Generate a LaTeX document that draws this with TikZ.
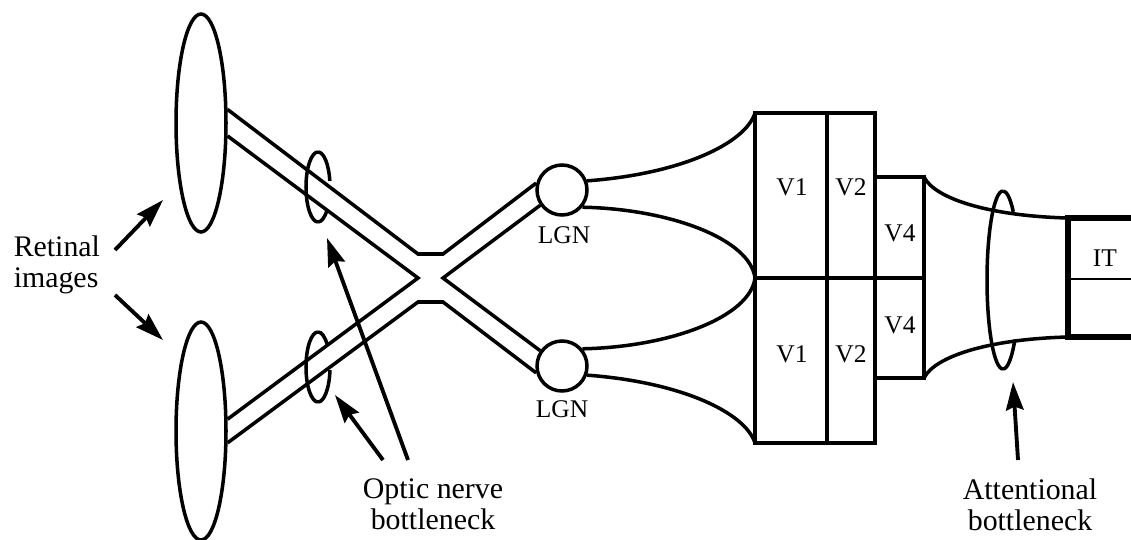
\documentclass[tikz,border=0pt]{standalone}
\usepackage{fontspec}
\setmainfont{Liberation Serif}
\usetikzlibrary{arrows.meta, positioning, calc, shapes.geometric}

\begin{document}
\begin{tikzpicture}[x=0.02cm, y=0.02cm, line width=2pt,
		eye/.style={draw, ellipse, minimum width=1cm, minimum height=4.36cm, inner sep=0pt},
		lgn/.style={draw, circle, minimum size=1cm, inner sep=0pt},
		lbl/.style={font=\fontsize{14.5}{16}\selectfont, inner sep=0pt},
		txt/.style={font=\fontsize{17}{17.5}\selectfont, align=center, inner sep=0pt},
		arr/.style={line width=2.2pt, -{Stealth[length=16pt, width=10pt, inset=2pt]}},
		ring/.style={x radius=12, y radius=35},
		bigring/.style={x radius=16, y radius=89}]
			\useasboundingbox (0,0) rectangle (1131,539);
			% eyes and LGN
			\node[eye] (eyeT) at (201,416) {};
			\node[eye] (eyeB) at (201,108) {};
			\node[lgn] (lgnT) at (562,349) {};
			\node[lgn] (lgnB) at (562,173) {};
			\node[lbl] (lgnTl) at (564,304) {LGN};
			\node[lbl] (lgnBl) at (562,130) {LGN};
			% chiasm
			\coordinate (chUL) at (418,285);
			\coordinate (chUR) at (443,285);
			\coordinate (chL) at (418,261);
			\coordinate (chR) at (443,261);
			\coordinate (chDL) at (418,237);
			\coordinate (chDR) at (443,237);
			\draw (eyeT.27) -- (chUL) -- (chUR) -- (lgnT.165);
			\draw (eyeT.-26) -- (chL) -- (eyeB.24);
			\draw (eyeB.-24) -- (chDL) -- (chDR) -- (lgnB.195);
			\draw (lgnT.215) -- (chR) -- (lgnB.145);
			% optic nerve rings
			\draw (318,387) arc[ring, start angle=90, end angle=270];
			\draw (318,387) arc[ring, start angle=90, end angle=10];
			\draw (318,317) arc[ring, start angle=-90, end angle=-42];
			\draw (318,207) arc[ring, start angle=90, end angle=270];
			\draw (318,207) arc[ring, start angle=90, end angle=40];
			\draw (318,137) arc[ring, start angle=-90, end angle=-5];
			% V1 V2 V4
			\coordinate (v1a) at (755,426);
			\coordinate (v1m) at (755,261);
			\coordinate (v1b) at (755,96);
			\coordinate (v4a) at (924,362);
			\coordinate (v4b) at (924,161);
			\draw (v1b) rectangle (827,426);
			\draw (827,96) rectangle (875,426);
			\draw (875,161) rectangle (v4a);
			\draw (v1m) -- (924,261);
			\node[lbl] (v1T) at (792,352) {V1};
			\node[lbl] (v1B) at (792,185) {V1};
			\node[lbl] (v2T) at (851,352) {V2};
			\node[lbl] (v2B) at (851,185) {V2};
			\node[lbl] (v4T) at (900,306) {V4};
			\node[lbl] (v4B) at (900,214) {V4};
			\draw (lgnT.20) .. controls (680,365) and (745,395) .. (v1a);
			\draw (lgnT.-40) .. controls (670,330) and (750,300) .. (v1m);
			\draw (lgnB.40) .. controls (670,192) and (750,222) .. (v1m);
			\draw (lgnB.-20) .. controls (680,157) and (745,127) .. (v1b);
			% IT
			\coordinate (itT) at (1068,321);
			\coordinate (itB) at (1068,202);
			\draw (v4a) .. controls (935,340) and (990,323) .. (itT);
			\draw (v4b) .. controls (935,183) and (990,200) .. (itB);
			\draw[line width=3pt] (1131,321) -- (itT) -- (itB) -- (1131,202);
			\draw[line width=1.3pt] (1068,260) -- (1131,260);
			\node[lbl] (it) at (1105,281) {IT};
			% attentional ring
			\draw (1003,348) arc[bigring, start angle=90, end angle=270];
			\draw (1003,348) arc[bigring, start angle=90, end angle=50];
			\draw (1003,170) arc[bigring, start angle=-90, end angle=-42];
			% texts and arrows
			\node[txt, align=left, anchor=west] (ret) at (12,274) {Retinal\\images};
			\node[txt] (optic) at (433,35) {Optic nerve\\bottleneck};
			\node[txt] (attn) at (1030,34) {Attentional\\bottleneck};
			\coordinate (r1) at (163,339);
			\coordinate (r2) at (163,199);
			\coordinate (o1) at (327,301);
			\coordinate (o2) at (335,144);
			\coordinate (a1) at (1013,157);
			\draw[arr] (115,289) -- (r1);
			\draw[arr] (115,244) -- (r2);
			\draw[arr] (408,79) -- (o1);
			\draw[arr] (383,79) -- (o2);
			\draw[arr] (1018,79) -- (a1);
		\end{tikzpicture}
\end{document}
